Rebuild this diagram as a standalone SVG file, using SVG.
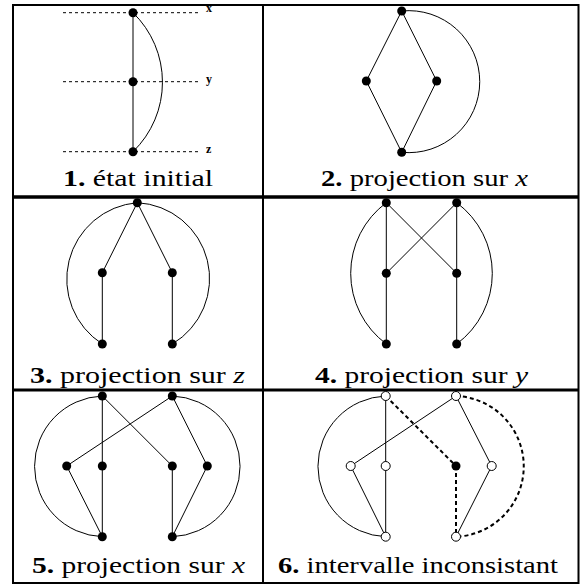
<svg xmlns="http://www.w3.org/2000/svg" width="582" height="584" viewBox="0 0 582 584">
<style>
.frame{stroke:#000;fill:none}
.e{stroke:#000;stroke-width:1;fill:none}
.d{stroke:#000;stroke-width:2;stroke-dasharray:4 3;fill:none}
.g{stroke:#000;stroke-width:1;stroke-dasharray:3 3;fill:none}
.n{fill:#000}
.o{fill:#fff;stroke:#000;stroke-width:1}
.b{font-weight:bold}
.m{font-style:italic}
</style>
<rect width="582" height="584" fill="#fff"/>
<g id="frame" class="frame">
<line x1="12" y1="5" x2="579" y2="5" stroke-width="2"/>
<line x1="12" y1="583" x2="579" y2="583" stroke-width="2"/>
<line x1="13" y1="4" x2="13" y2="584" stroke-width="2"/>
<line x1="578.5" y1="4" x2="578.5" y2="584" stroke-width="2"/>
<line x1="263" y1="4" x2="263" y2="584" stroke-width="2"/>
<line x1="12" y1="197" x2="579" y2="197" stroke-width="3.5"/>
<line x1="12" y1="390" x2="579" y2="390" stroke-width="3"/>
</g>
<g id="connectors">
<line class="g" x1="63" y1="12.7" x2="198" y2="12.7"/>
<line class="g" x1="63" y1="81.7" x2="198" y2="81.7"/>
<line class="g" x1="63" y1="151.7" x2="198" y2="151.7"/>
<line class="e" x1="133" y1="12.7" x2="133" y2="151.7"/>
<path class="e" d="M133 12.7 A96.7 96.7 0 0 1 133 151.7"/>
<path class="e" d="M401.7 11 L366.3 81 L401.7 152.3 L436.7 81 Z"/>
<path class="e" d="M401.7 11 A71 71 0 1 1 401.7 152.3"/>
<path class="e" d="M102.3 344 L102.3 272.7 L137.3 202.7 L172.3 272.7 L172.3 344"/>
<path class="e" d="M137.3 202.7 A76.8 76.8 0 0 0 102.3 344"/>
<path class="e" d="M137.3 202.7 A76 76 0 0 1 172.3 344"/>
<line class="e" x1="386.3" y1="202.7" x2="386.3" y2="344"/>
<line class="e" x1="456.7" y1="202.7" x2="456.7" y2="344"/>
<line class="e" x1="386.3" y1="202.7" x2="456.7" y2="273.3"/>
<line class="e" x1="456.7" y1="202.7" x2="386.3" y2="273.3"/>
<path class="e" d="M386.3 202.7 A87.9 87.9 0 0 0 386.3 344"/>
<path class="e" d="M456.7 202.7 A87.9 87.9 0 0 1 456.7 344"/>
<line class="e" x1="102.3" y1="396" x2="102.3" y2="536.7"/>
<line class="e" x1="102.3" y1="396" x2="172.3" y2="466"/>
<line class="e" x1="172.3" y1="396" x2="66.7" y2="466"/>
<line class="e" x1="66.7" y1="466" x2="102.3" y2="536.7"/>
<line class="e" x1="172.3" y1="466" x2="172.3" y2="536.7"/>
<path class="e" d="M172.3 396 L207.3 466 L172.3 536.7"/>
<path class="e" d="M102.3 396 A70.4 70.4 0 0 0 102.3 536.7"/>
<path class="e" d="M172.3 396 A70.4 70.4 0 0 1 172.3 536.7"/>
<line class="e" x1="385.7" y1="396" x2="385.7" y2="536.7"/>
<line class="e" x1="456" y1="396" x2="350.7" y2="466"/>
<line class="e" x1="350.7" y1="466" x2="385.7" y2="536.7"/>
<path class="e" d="M456 396 L491.7 466 L456 536.7"/>
<path class="e" d="M385.7 396 A70.4 70.4 0 0 0 385.7 536.7"/>
<line class="d" x1="385.7" y1="396" x2="456" y2="466"/>
<line class="d" x1="456" y1="466" x2="456" y2="536.7"/>
<path class="d" d="M456 396 A70.4 70.4 0 0 1 456 536.7"/>
</g>
<g id="p1-x"><circle class="n" cx="133" cy="12.7" r="4.5"/></g>
<g id="p1-y"><circle class="n" cx="133" cy="81.7" r="4.5"/></g>
<g id="p1-z"><circle class="n" cx="133" cy="151.7" r="4.5"/></g>
<g id="p1-axes" font-family="'Liberation Serif', 'Times New Roman', serif" font-size="12" font-weight="bold">
<text x="206" y="12">x</text>
<text x="206" y="83">y</text>
<text x="206" y="153">z</text>
</g>
<g id="p2-top"><circle class="n" cx="401.7" cy="11" r="4.5"/></g>
<g id="p2-left"><circle class="n" cx="366.3" cy="81" r="4.5"/></g>
<g id="p2-right"><circle class="n" cx="436.7" cy="81" r="4.5"/></g>
<g id="p2-bottom"><circle class="n" cx="401.7" cy="152.3" r="4.5"/></g>
<g id="p3-top"><circle class="n" cx="137.3" cy="202.7" r="4.5"/></g>
<g id="p3-ml"><circle class="n" cx="102.3" cy="272.7" r="4.5"/></g>
<g id="p3-mr"><circle class="n" cx="172.3" cy="272.7" r="4.5"/></g>
<g id="p3-bl"><circle class="n" cx="102.3" cy="344" r="4.5"/></g>
<g id="p3-br"><circle class="n" cx="172.3" cy="344" r="4.5"/></g>
<g id="p4-tl"><circle class="n" cx="386.3" cy="202.7" r="4.5"/></g>
<g id="p4-tr"><circle class="n" cx="456.7" cy="202.7" r="4.5"/></g>
<g id="p4-ml"><circle class="n" cx="386.3" cy="273.3" r="4.5"/></g>
<g id="p4-mr"><circle class="n" cx="456.7" cy="273.3" r="4.5"/></g>
<g id="p4-bl"><circle class="n" cx="386.3" cy="344" r="4.5"/></g>
<g id="p4-br"><circle class="n" cx="456.7" cy="344" r="4.5"/></g>
<g id="p5-t1"><circle class="n" cx="102.3" cy="396" r="4.5"/></g>
<g id="p5-t2"><circle class="n" cx="172.3" cy="396" r="4.5"/></g>
<g id="p5-m1"><circle class="n" cx="66.7" cy="466" r="4.5"/></g>
<g id="p5-m2"><circle class="n" cx="102.3" cy="466" r="4.5"/></g>
<g id="p5-m3"><circle class="n" cx="172.3" cy="466" r="4.5"/></g>
<g id="p5-m4"><circle class="n" cx="207.3" cy="466" r="4.5"/></g>
<g id="p5-b1"><circle class="n" cx="102.3" cy="536.7" r="4.5"/></g>
<g id="p5-b2"><circle class="n" cx="172.3" cy="536.7" r="4.5"/></g>
<g id="p6-t1"><circle class="o" cx="385.7" cy="396" r="4.5"/></g>
<g id="p6-t2"><circle class="o" cx="456" cy="396" r="4.5"/></g>
<g id="p6-m1"><circle class="o" cx="350.7" cy="466" r="4.5"/></g>
<g id="p6-m2"><circle class="o" cx="385.7" cy="466" r="4.5"/></g>
<g id="p6-m3"><circle class="n" cx="456" cy="466" r="4.5"/></g>
<g id="p6-m4"><circle class="o" cx="491.7" cy="466" r="4.5"/></g>
<g id="p6-b1"><circle class="o" cx="385.7" cy="536.7" r="4.5"/></g>
<g id="p6-b2"><circle class="o" cx="456" cy="536.7" r="4.5"/></g>
<g id="labels" font-family="'Liberation Serif', 'Times New Roman', serif" font-size="24" fill="#000">
<text x="63" y="186" textLength="150" lengthAdjust="spacingAndGlyphs"><tspan class="b">1.</tspan> état initial</text>
<text x="321" y="186" textLength="207" lengthAdjust="spacingAndGlyphs"><tspan class="b">2.</tspan> projection sur <tspan class="m">x</tspan></text>
<text x="30" y="382.5" textLength="215" lengthAdjust="spacingAndGlyphs"><tspan class="b">3.</tspan> projection sur <tspan class="m">z</tspan></text>
<text x="315" y="382.5" textLength="213" lengthAdjust="spacingAndGlyphs"><tspan class="b">4.</tspan> projection sur <tspan class="m">y</tspan></text>
<text x="32" y="573" textLength="213" lengthAdjust="spacingAndGlyphs"><tspan class="b">5.</tspan> projection sur <tspan class="m">x</tspan></text>
<text x="278" y="573" textLength="280" lengthAdjust="spacingAndGlyphs"><tspan class="b">6.</tspan> intervalle inconsistant</text>
</g>
</svg>
